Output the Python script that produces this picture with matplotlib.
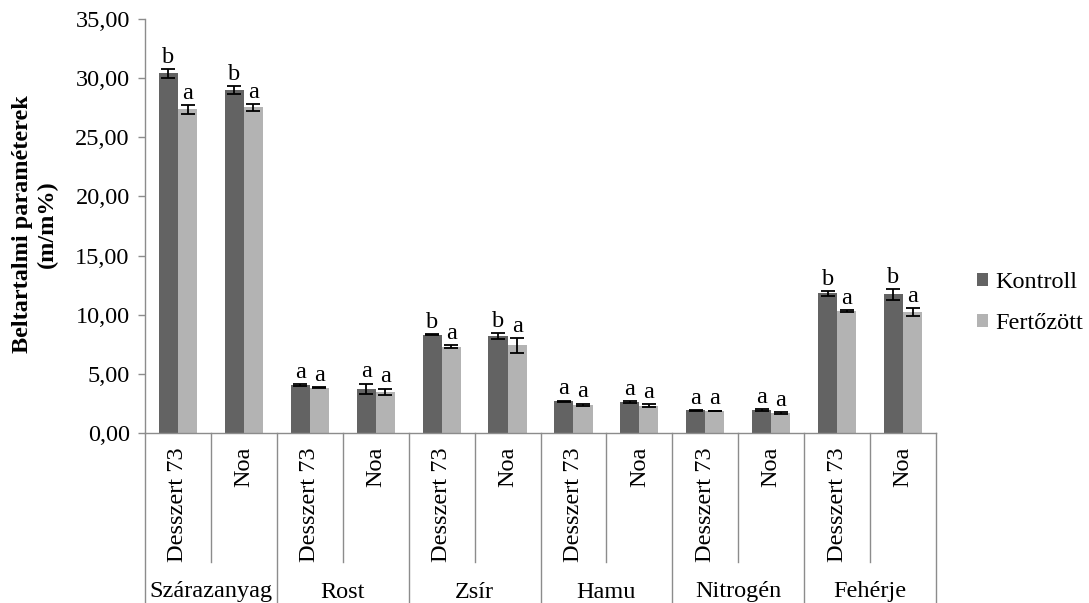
import matplotlib
matplotlib.use("Agg")
import matplotlib.pyplot as plt
from matplotlib.patches import Patch
from matplotlib.lines import Line2D
import numpy as np

plt.rcParams['font.family'] = ['Liberation Serif', 'DejaVu Serif']

groups = ["Szárazanyag", "Rost", "Zsír", "Hamu", "Nitrogén", "Fehérje"]
varieties = ["Desszert 73", "Noa"]
series_names = ["Kontroll", "Fertőzött"]

kontroll = [30.40, 29.00, 4.06, 3.75, 8.31, 8.17, 2.70, 2.62, 1.92, 1.92, 11.81, 11.72]
kontroll_err = [0.35, 0.30, 0.05, 0.42, 0.04, 0.25, 0.04, 0.08, 0.03, 0.08, 0.20, 0.45]
fertozott = [27.36, 27.53, 3.83, 3.47, 7.30, 7.41, 2.37, 2.31, 1.86, 1.69, 10.31, 10.20]
fertozott_err = [0.38, 0.27, 0.05, 0.28, 0.10, 0.62, 0.12, 0.10, 0.04, 0.05, 0.10, 0.35]
kontroll_letters = ["b", "b", "a", "a", "b", "b", "a", "a", "a", "a", "b", "b"]
fertozott_letters = ["a", "a", "a", "a", "a", "a", "a", "a", "a", "a", "a", "a"]

c_dark = "#636363"
c_light = "#b3b3b3"
c_axis = "#8c8c8c"
fs = 17.5

fig = plt.figure(figsize=(10.89, 6.03), dpi=100)
ax = fig.add_axes([145 / 1089, 1 - 433 / 603, (936 - 145) / 1089, (433 - 19) / 603])

n = len(kontroll)
x = np.arange(n)
w = 0.29
ekw = dict(ecolor="black", elinewidth=1.3, capsize=5, capthick=1.3)
ax.bar(x - w / 2, kontroll, w, color=c_dark, yerr=kontroll_err, error_kw=ekw, zorder=2)
ax.bar(x + w / 2, fertozott, w, color=c_light, yerr=fertozott_err, error_kw=ekw, zorder=2)

for i in range(n):
    ax.annotate(kontroll_letters[i], (x[i] - w / 2, kontroll[i] + kontroll_err[i]),
                xytext=(0, 4.5), textcoords="offset points", ha="center", va="baseline",
                fontsize=fs)
    ax.annotate(fertozott_letters[i], (x[i] + w / 2, fertozott[i] + fertozott_err[i]),
                xytext=(0, 4.5), textcoords="offset points", ha="center", va="baseline",
                fontsize=fs)

ax.set_xlim(-0.5, n - 0.5)
ax.set_ylim(0, 35)
yt = np.arange(0, 35.1, 5)
ax.set_yticks(yt)
ax.set_yticklabels([f"{v:.2f}".replace(".", ",") for v in yt], fontsize=fs)
ax.tick_params(axis="y", direction="out", length=5, width=1, color=c_axis, pad=6)
ax.set_xticks([])
for s in ["top", "right"]:
    ax.spines[s].set_visible(False)
for s in ["left", "bottom"]:
    ax.spines[s].set_color(c_axis)
    ax.spines[s].set_linewidth(1)

# two-level category axis
trans = ax.get_xaxis_transform()
inner_bottom = (433 - 562) / 414
outer_bottom = (433 - 603) / 414
nv = len(varieties)
for i in range(n):
    ax.text(x[i], -0.034, varieties[i % nv], rotation=90, ha="center", va="top",
            fontsize=fs, transform=trans)
for b in range(n + 1):
    bottom = outer_bottom if b % nv == 0 else inner_bottom
    ax.add_line(Line2D([b - 0.5, b - 0.5], [0, bottom], transform=trans, color=c_axis,
                       lw=1, clip_on=False))
for g, name in enumerate(groups):
    ax.text(g * nv + (nv - 1) / 2, (433 - 592) / 414, name, ha="center", va="center",
            fontsize=fs, transform=trans)

fig.text(35 / 1089, 1 - 224 / 603, "Beltartalmi paraméterek\n(m/m%)", rotation=90,
         ha="center", va="center", multialignment="center", fontsize=fs, fontweight="bold")

handles = [Patch(facecolor=c_dark, edgecolor="none"), Patch(facecolor=c_light, edgecolor="none")]
fig.legend(handles, series_names, loc="center left", bbox_to_anchor=(977 / 1089, 1 - 303 / 603),
           frameon=False, fontsize=fs, handlelength=0.45, handleheight=0.45, handletextpad=0.3,
           labelspacing=0.8, borderpad=0, borderaxespad=0)

fig.savefig("out.png", dpi=100)
